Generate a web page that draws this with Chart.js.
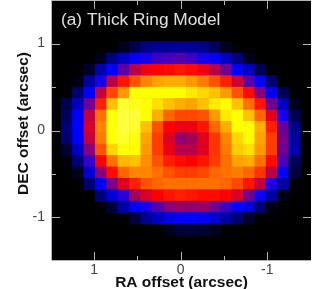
<!DOCTYPE html>
<html>
<head>
<meta charset="utf-8">
<script src="https://cdn.jsdelivr.net/npm/chart.js@4"></script>
<style>
  html, body { margin: 0; padding: 0; background: #fff; }
  canvas { display: block; filter: blur(0.4px); }
</style>
</head>
<body>
<canvas id="ring" width="313" height="289"></canvas>
<script>
const titleText = "(a) Thick Ring Model";
const xTitle = "RA offset (arcsec)";
const yTitle = "DEC offset (arcsec)";
const axisTicks = [-1, -0.5, 0, 0.5, 1];

const raOffsets = [1.315, 1.184, 1.052, 0.921, 0.789, 0.658, 0.526, 0.395, 0.263, 0.132, 0,
  -0.132, -0.263, -0.395, -0.526, -0.658, -0.789, -0.921, -1.052, -1.184, -1.315];
const decOffsets = [0.958, 0.827, 0.696, 0.565, 0.433, 0.302, 0.171, 0.040, -0.091,
  -0.222, -0.353, -0.484, -0.615, -0.746, -0.878, -1.009, -1.140];

// intensity per row, top to bottom
const intensity = [
  [0, 0, 0, 0, 0, 3, 8, 13, 15, 15, 15, 15, 14, 9, 3, 0, 0, 0, 0, 0, 0],
  [0, 0, 0, 3, 13, 19, 25, 27, 31, 32, 33, 31, 27, 25, 19, 12, 3, 0, 0, 0, 0],
  [0, 0, 4, 17, 25, 34, 43, 48, 50, 51, 52, 51, 48, 43, 36, 25, 19, 8, 0, 0, 0],
  [0, 2, 16, 27, 43, 52, 58, 63, 66, 67, 67, 65, 62, 58, 53, 45, 34, 25, 11, 0, 0],
  [0, 11, 25, 44, 57, 65, 75, 75, 75, 75, 75, 73, 71, 69, 65, 58, 51, 38, 24, 8, 0],
  [8, 19, 36, 53, 69, 80, 78, 75, 72, 69, 67, 66, 69, 73, 75, 69, 61, 52, 36, 19, 3],
  [9, 25, 44, 61, 76, 82, 81, 75, 67, 60, 57, 57, 58, 65, 73, 75, 69, 60, 47, 27, 8],
  [12, 25, 46, 63, 76, 82, 80, 69, 58, 50, 48, 48, 52, 60, 67, 75, 75, 67, 53, 35, 14],
  [11, 25, 44, 62, 76, 80, 76, 66, 56, 47, 39, 41, 47, 55, 63, 71, 75, 66, 56, 37, 16],
  [5, 19, 38, 58, 71, 76, 75, 65, 56, 48, 43, 43, 47, 55, 62, 70, 72, 65, 56, 36, 17],
  [1, 12, 30, 50, 61, 68, 69, 64, 58, 53, 51, 50, 52, 56, 61, 66, 67, 61, 51, 32, 9],
  [0, 3, 21, 38, 51, 60, 63, 63, 61, 58, 56, 56, 57, 60, 61, 62, 60, 55, 43, 25, 6],
  [0, 0, 11, 25, 37, 47, 53, 58, 60, 61, 61, 61, 61, 61, 60, 57, 52, 44, 28, 16, 0],
  [0, 0, 0, 12, 21, 29, 41, 46, 50, 52, 53, 52, 51, 51, 50, 46, 36, 26, 16, 2, 0],
  [0, 0, 0, 0, 6, 16, 25, 27, 33, 38, 40, 39, 40, 36, 31, 25, 22, 11, 2, 0, 0],
  [0, 0, 0, 0, 0, 0, 6, 14, 19, 22, 25, 25, 24, 21, 16, 11, 4, 0, 0, 0, 0],
  [0, 0, 0, 0, 0, 0, 0, 0, 0, 3, 6, 6, 5, 3, 0, 0, 0, 0, 0, 0, 0]
];

const colorStops = [
  [0, [0, 0, 0]],
  [25, [0, 0, 255]],
  [50, [255, 0, 0]],
  [75, [255, 255, 0]],
  [85, [255, 255, 90]]
];

function colorFor(v) {
  for (let i = 1; i < colorStops.length; i++) {
    let a = colorStops[i - 1], b = colorStops[i];
    if (v <= b[0]) {
      let t = (v - a[0]) / (b[0] - a[0]);
      let c = a[1].map((n, j) => Math.round(n + (b[1][j] - n) * t));
      return "rgb(" + c.join(",") + ")";
    }
  }
  return "rgb(255,255,90)";
}

let cells = [];
decOffsets.forEach((dec, r) => {
  raOffsets.forEach((ra, c) => {
    if (intensity[r][c] > 0) cells.push({ x: ra, y: dec, v: intensity[r][c] });
  });
});

const frame = {
  id: "frame",
  beforeDatasetsDraw(chart) {
    let a = chart.chartArea, ctx = chart.ctx;
    ctx.save();
    ctx.fillStyle = "#000";
    ctx.fillRect(a.left, a.top, a.right - a.left, a.bottom - a.top);
    ctx.restore();
  },
  afterDatasetsDraw(chart) {
    let a = chart.chartArea, ctx = chart.ctx;
    ctx.save();
    ctx.strokeStyle = "#b4b4b4";
    ctx.lineWidth = 1;
    ctx.beginPath();
    ctx.moveTo(a.right, a.top - 0.5);
    ctx.lineTo(a.left - 0.5, a.top - 0.5);
    ctx.lineTo(a.left - 0.5, a.bottom + 0.5);
    ctx.lineTo(a.right, a.bottom + 0.5);
    axisTicks.forEach(t => {
      let len = t % 1 === 0 ? 8 : 4;
      let px = Math.round(chart.scales.x.getPixelForValue(t)) + 0.5;
      let py = Math.round(chart.scales.y.getPixelForValue(t)) + 0.5;
      ctx.moveTo(px, a.top);
      ctx.lineTo(px, a.top + len);
      ctx.moveTo(px, a.bottom);
      ctx.lineTo(px, a.bottom - len);
      ctx.moveTo(a.left, py);
      ctx.lineTo(a.left + len, py);
      ctx.moveTo(a.right, py);
      ctx.lineTo(a.right - len, py);
    });
    ctx.stroke();
    ctx.fillStyle = "#e0e0e0";
    ctx.font = "17.3px 'Liberation Sans'";
    ctx.textBaseline = "alphabetic";
    ctx.fillText(titleText, 61, 25);
    // y title sits above the axis middle in the original, scale title can't do that
    ctx.fillStyle = "#111";
    ctx.font = "bold 15.5px 'Liberation Sans'";
    ctx.textAlign = "center";
    ctx.textBaseline = "middle";
    ctx.translate(24, 123.5);
    ctx.rotate(-Math.PI / 2);
    ctx.fillText(yTitle, 0, 0);
    ctx.restore();
  }
};

function labelFor(v) {
  return v % 1 === 0 ? String(v) : "";
}

new Chart(document.getElementById("ring"), {
  type: "scatter",
  data: {
    datasets: [{
      data: cells,
      pointStyle: "rect",
      pointRadius: 8.5,
      pointBorderWidth: 0,
      pointBackgroundColor: ctx => colorFor(ctx.raw.v)
    }]
  },
  options: {
    responsive: false,
    animation: false,
    layout: { autoPadding: false, padding: { top: 1, right: 2, left: 0, bottom: 0 } },
    plugins: { legend: { display: false }, tooltip: { enabled: false } },
    scales: {
      x: {
        type: "linear",
        reverse: true,
        min: -1.505,
        max: 1.486,
        afterBuildTicks(s) { s.ticks = axisTicks.map(v => ({ value: v })); },
        afterFit(s) { s.height = 29; s.paddingLeft = 0; s.paddingRight = 0; },
        grid: { display: false, drawTicks: false, tickLength: 0 },
        border: { display: false },
        ticks: {
          callback: labelFor,
          autoSkip: false,
          maxRotation: 0,
          padding: 2,
          color: "#444",
          font: { family: "Liberation Sans", size: 14 }
        },
        title: {
          display: true,
          text: xTitle,
          color: "#111",
          padding: { top: 0, bottom: -3 },
          font: { family: "Liberation Sans", size: 15.5, weight: "bold" }
        }
      },
      y: {
        type: "linear",
        min: -1.49,
        max: 1.49,
        afterBuildTicks(s) { s.ticks = axisTicks.map(v => ({ value: v })); },
        afterFit(s) { s.width = 52; s.paddingTop = 0; s.paddingBottom = 0; },
        grid: { display: false, drawTicks: false, tickLength: 0 },
        border: { display: false },
        ticks: {
          callback: labelFor,
          autoSkip: false,
          padding: 7,
          color: "#444",
          font: { family: "Liberation Sans", size: 14 }
        }
      }
    }
  },
  plugins: [frame]
});
</script>
</body>
</html>
